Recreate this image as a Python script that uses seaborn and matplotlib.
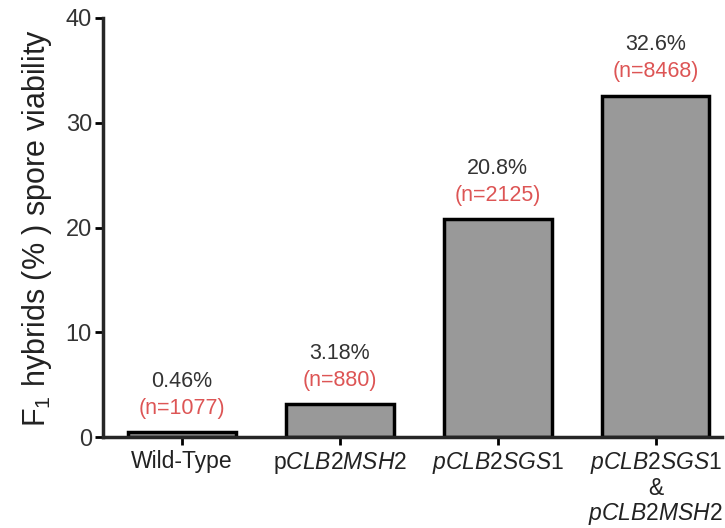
import pandas as pd
import matplotlib
matplotlib.use("Agg")
import matplotlib.pyplot as plt
import seaborn as sns

# values
strains = ["Wild-Type", "pCLB2MSH2", "pCLB2SGS1", "pCLB2SGS1 & pCLB2MSH2"]
tick_labels = [
    "Wild-Type",
    r"p$\it{CLB2MSH2}$",
    r"$\it{pCLB2SGS1}$",
    "$\\it{pCLB2SGS1}$\n&\n$\\it{pCLB2MSH2}$",
]
viability = [0.46, 3.18, 20.8, 32.6]
pct_labels = ["0.46%", "3.18%", "20.8%", "32.6%"]
n_labels = ["(n=1077)", "(n=880)", "(n=2125)", "(n=8468)"]

df = pd.DataFrame({"strain": strains, "viability": viability})

sns.set_style("ticks")
plt.rcParams["font.family"] = ["Liberation Sans", "DejaVu Sans"]
plt.rcParams["mathtext.fontset"] = "custom"
plt.rcParams["mathtext.rm"] = "Liberation Sans"
plt.rcParams["mathtext.it"] = "Liberation Sans:italic"

fig = plt.figure(figsize=(7.25, 5.28), dpi=100)
ax = fig.add_axes([0.142, 0.172, 0.854, 0.794])

sns.barplot(data=df, x="strain", y="viability", color="#999999", saturation=1,
            edgecolor="black", linewidth=2.5, width=0.68, ax=ax)

# annotations above each bar
for i, (v, p, n) in enumerate(zip(viability, pct_labels, n_labels)):
    ax.annotate(n, (i, v), xytext=(0, 17), textcoords="offset points",
                ha="center", va="center", fontsize=15.5, color="#dd5555")
    ax.annotate(p, (i, v), xytext=(0, 36.5), textcoords="offset points",
                ha="center", va="center", fontsize=15.5, color="#333333")

ax.set_ylim(0, 40)
ax.set_xlim(-0.5, 3.42)
ax.set_yticks([0, 10, 20, 30, 40])
ax.set_xticks(range(len(strains)))
ax.set_xticklabels(tick_labels, fontsize=16.5, color="#222222", linespacing=1.05)
ax.tick_params(axis="y", labelsize=17, labelcolor="#333333", pad=2)
ax.tick_params(width=2, length=6, color="black")
ax.set_xlabel("")
ax.set_ylabel(r"F$_{\mathregular{1}}$ hybrids (% ) spore viability", fontsize=22,
              color="#222222", labelpad=8)

sns.despine(ax=ax)
ax.spines["left"].set_linewidth(2.5)
ax.spines["bottom"].set_linewidth(2.5)

fig.savefig("out.png", dpi=100)
